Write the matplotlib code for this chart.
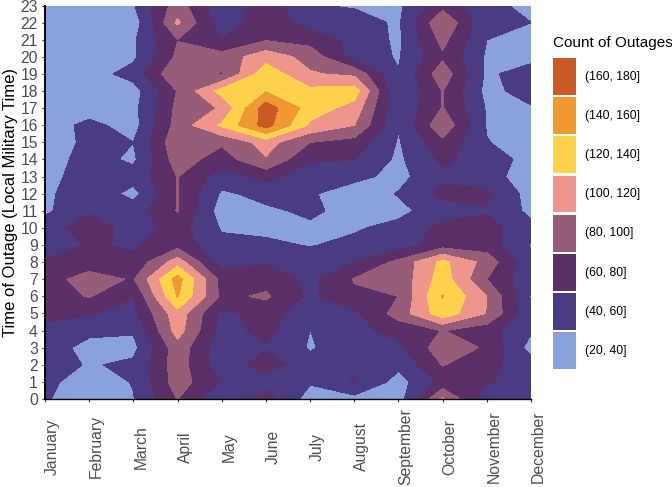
import numpy as np
import matplotlib
matplotlib.use("Agg")
import matplotlib.pyplot as plt
from matplotlib.patches import Patch

plt.rcParams['font.family'] = ['Liberation Sans', 'DejaVu Sans']

months = ["January", "February", "March", "April", "May", "June", "July",
          "August", "September", "October", "November", "December"]
hours = list(range(24))

# outage counts per month, index = hour of day 0..23
jan = [42,45,50,50,55,66,72,72,65,39,50,36,35,30,30,30,30,30,30,30,30,30,30,30]
feb = [28,30,38,33,45,61,81,88,70,63,72,57,55,54,48,44,45,30,30,30,30,30,30,30]
mar = [39,41,44,34,42,55,60.5,78,65,57,50,50,33,48,36,40,32,34,31,48,36,37,28,38]
apr = [80.5,90,90,92,108,112,141,148,110,72,68,81,80.8,80.5,90,95,88,85,81,98,84,79.5,103,90]
may = [39,59,48,47,52,55,75,72,50,45,38,30,37,50,70,83,123,102,127,78,88,60,48,45]
jun = [70,50,70,58,66,68,83,72,58,43,36,37,45,66,98,108,168,171,138,132,112,78,72,72]
jul = [30,42,46,38,39.8,47,56,55,48,39,37,43,42,50,62,80,116,130,125,102,92,72,52,41]
aug = [33,62,54,52,53,56,77,81,60,44,38,34,30,45,60,72,100,112,130,95,52,54,48,38]
sep = [30,32,44,55,68,88,80,85,85,50,45,35,41,34,36,38,41,42,39.5,41,38,36,37,36]
oct_ = [102,65,81,92,80.5,132,141,130,125,70,66,50,66,55,64,74,95,81,80.5,92,76,86,98,72]
nov = [47,62,65,77,68,99,100,80,92,70,68,58,64,50,50,41,38,38,34,36,37,40,43,45]
dec = [48,50,50,32,42,44,38,44,44,38.5,45,35,31,26,33,28,30,38,48,50,33,32,40,35]

levels = [20, 40, 60, 80, 100, 120, 140, 160, 180]
band_labels = ["(20, 40]", "(40, 60]", "(60, 80]", "(80, 100]",
               "(100, 120]", "(120, 140]", "(140, 160]", "(160, 180]"]
band_colors = ["#8AA1DB", "#4B3B82", "#5B2F67", "#975C78",
               "#EF968C", "#FCD14B", "#EE9932", "#C95A26"]

Z = np.array([jan, feb, mar, apr, may, jun, jul, aug, sep, oct_, nov, dec]).T

W, H = 672, 487
fig = plt.figure(figsize=(W / 100, H / 100), dpi=100)
ax = fig.add_axes([45 / W, 1 - 399 / H, (531 - 45) / W, (399 - 5.5) / H])

x = np.arange(len(months))
cs = ax.contourf(x, hours, Z, levels=levels, colors=band_colors)
cs.set_edgecolor('face')
cs.set_linewidth(0.25)

ax.set_xlim(0, 11)
ax.set_ylim(0, 23)
ax.set_xticks(x)
ax.set_xticklabels(months, rotation=90, fontsize=11.3, color="#4d4d4d", ha='left', va='center')
ax.set_yticks(hours)
ax.set_yticklabels([str(h) for h in hours], fontsize=11.3, color="#4d4d4d")
ax.tick_params(axis='y', length=2.5, width=0.8, color="#333333", pad=2.6)
ax.tick_params(axis='x', length=2.5, width=0.8, color="#333333", pad=32)
for s in ('top', 'right'):
    ax.spines[s].set_visible(False)
ax.spines['left'].set_linewidth(1.4)
ax.spines['bottom'].set_linewidth(1.0)
ax.set_ylabel("Time of Outage (Local Military Time)", fontsize=12, color="black")
ax.yaxis.set_label_coords((18.5 - 45) / 486, 0.5)

handles = [Patch(facecolor=c, edgecolor='none', label=l)
           for c, l in zip(band_colors[::-1], band_labels[::-1])]
leg = fig.legend(handles=handles, title="Count of Outages", loc='upper left',
                 bbox_to_anchor=(553 / W, 1 - 36 / H), frameon=False,
                 fontsize=8.8, title_fontsize=11, alignment='left',
                 handlelength=1.88, handleheight=4.25, labelspacing=0.2,
                 handletextpad=0.72, borderpad=0, borderaxespad=0)
leg._legend_box.sep = 5.8
fig.savefig("out.png", dpi=100)
